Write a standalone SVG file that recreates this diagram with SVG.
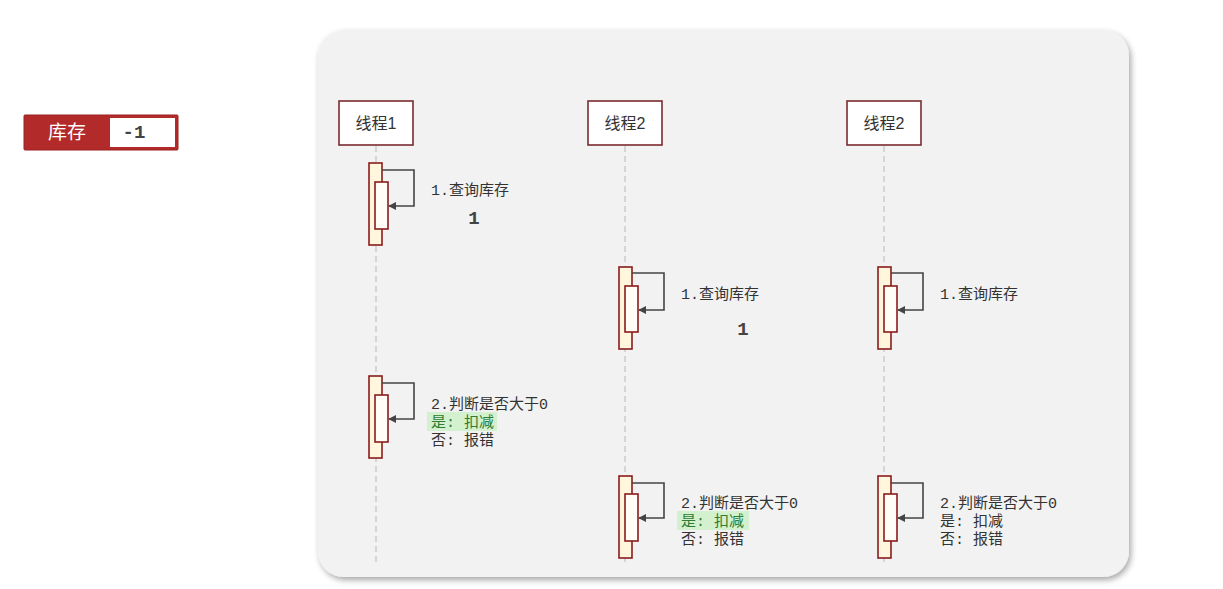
<svg xmlns="http://www.w3.org/2000/svg" width="1223" height="589" viewBox="0 0 1223 589">
<defs>
<style>
.t{font-family:"Liberation Mono","Noto Sans CJK SC",monospace;font-size:15px;fill:#333}
.n{font-family:"Liberation Sans","Noto Sans CJK SC",sans-serif;font-size:16px;fill:#333}
.b{font-family:"Liberation Mono","Noto Sans CJK SC",monospace;font-size:19px;font-weight:bold;fill:#444}
.box{fill:#fff;stroke:#7a2a2f;stroke-width:1.6}
.life{stroke:#b8b8b8;stroke-width:1;stroke-dasharray:6,4}
.act1{fill:#fff6dd;stroke:#8a1c1c;stroke-width:1.6}
.act2{fill:#fffdf6;stroke:#8a1c1c;stroke-width:1.6}
.loop{fill:none;stroke:#444;stroke-width:1.6}
.hl{fill:#d3f0cf}
</style>
<marker id="ah" viewBox="0 0 10 10" refX="9" refY="5" markerWidth="8" markerHeight="8" orient="auto" markerUnits="userSpaceOnUse">
<path d="M0,0 L10,5 L0,10 z" fill="#444"/>
</marker>
<filter id="sh" x="-5%" y="-5%" width="110%" height="110%">
<feGaussianBlur in="SourceAlpha" stdDeviation="3"/>
<feOffset dx="2" dy="3"/>
<feComponentTransfer><feFuncA type="linear" slope="0.35"/></feComponentTransfer>
<feMerge><feMergeNode/><feMergeNode in="SourceGraphic"/></feMerge>
</filter>
</defs>
<rect width="1223" height="589" fill="#fff"/>

<g id="badge">
<rect x="24" y="115" width="154" height="35" fill="#b22a2a" stroke="#9a2020" stroke-width="1" rx="1"/>
<rect x="110" y="118" width="65" height="29" fill="#fff"/>
<text x="67" y="139" font-family="Noto Sans CJK SC,sans-serif" font-size="19" fill="#fff" text-anchor="middle">库存</text>
<text x="134" y="138" class="b" text-anchor="middle" style="font-size:19px">-1</text>
</g>

<g id="panel">
<rect x="318" y="30" width="811" height="547" rx="26" fill="#f2f2f2" filter="url(#sh)"/>
</g>

<g id="lifelines">
<line class="life" x1="376" y1="146" x2="376" y2="562"/>
<line class="life" x1="625" y1="146" x2="625" y2="562"/>
<line class="life" x1="884" y1="146" x2="884" y2="562"/>
</g>

<g id="thread1">
<rect class="box" x="339" y="101" width="74" height="44"/>
<text class="n" x="376" y="129" text-anchor="middle">线程1</text>
</g>
<g id="thread2">
<rect class="box" x="588" y="101" width="74" height="44"/>
<text class="n" x="625" y="129" text-anchor="middle">线程2</text>
</g>
<g id="thread3">
<rect class="box" x="847" y="101" width="74" height="44"/>
<text class="n" x="884" y="129" text-anchor="middle">线程2</text>
</g>

<g id="act-t1-query">
<rect class="act1" x="369" y="163" width="13" height="82"/>
<rect class="act2" x="375" y="182" width="13" height="47"/>
</g>
<g id="act-t1-judge">
<rect class="act1" x="369" y="376" width="13" height="82"/>
<rect class="act2" x="375" y="395" width="13" height="47"/>
</g>
<g id="act-t2-query">
<rect class="act1" x="619" y="267" width="13" height="82"/>
<rect class="act2" x="625" y="286" width="13" height="46"/>
</g>
<g id="act-t2-judge">
<rect class="act1" x="619" y="476" width="13" height="82"/>
<rect class="act2" x="625" y="494" width="13" height="47"/>
</g>
<g id="act-t3-query">
<rect class="act1" x="878" y="267" width="13" height="82"/>
<rect class="act2" x="884" y="286" width="13" height="46"/>
</g>
<g id="act-t3-judge">
<rect class="act1" x="878" y="476" width="13" height="82"/>
<rect class="act2" x="884" y="494" width="13" height="47"/>
</g>

<g id="connectors">
<path class="loop" d="M382,170 H414 V206 H389" marker-end="url(#ah)"/>
<path class="loop" d="M382,383 H414 V419 H389" marker-end="url(#ah)"/>
<path class="loop" d="M632,273 H664 V310 H639" marker-end="url(#ah)"/>
<path class="loop" d="M632,483 H664 V518 H639" marker-end="url(#ah)"/>
<path class="loop" d="M891,273 H923 V310 H898" marker-end="url(#ah)"/>
<path class="loop" d="M891,483 H923 V518 H898" marker-end="url(#ah)"/>
</g>

<g id="labels">
<text class="t" x="431" y="195">1.查询库存</text>
<text class="b" x="474" y="224" text-anchor="middle">1</text>
<text class="t" x="681" y="299">1.查询库存</text>
<text class="b" x="743" y="335" text-anchor="middle">1</text>
<text class="t" x="940" y="299">1.查询库存</text>

<rect class="hl" x="427" y="412" width="70" height="19"/>
<text class="t" x="431" y="409">2.判断是否大于0</text>
<text class="t" x="431" y="427" style="fill:#2e7d32">是: 扣减</text>
<text class="t" x="431" y="445">否: 报错</text>

<rect class="hl" x="677" y="511" width="72" height="19"/>
<text class="t" x="681" y="508">2.判断是否大于0</text>
<text class="t" x="681" y="526" style="fill:#2e7d32">是: 扣减</text>
<text class="t" x="681" y="544">否: 报错</text>

<text class="t" x="940" y="508">2.判断是否大于0</text>
<text class="t" x="940" y="526">是: 扣减</text>
<text class="t" x="940" y="544">否: 报错</text>
</g>
</svg>
